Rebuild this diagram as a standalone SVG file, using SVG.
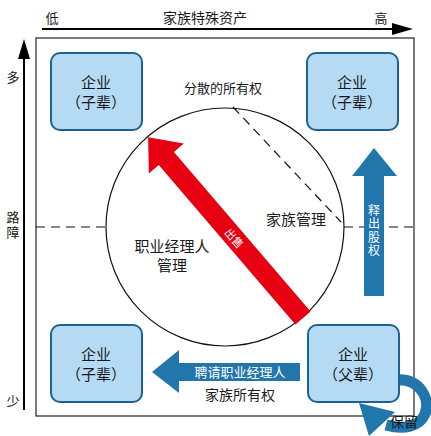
<svg xmlns="http://www.w3.org/2000/svg" width="431" height="436" viewBox="0 0 431 436">
<style>
text{font-family:"Noto Sans CJK SC","Noto Sans",sans-serif;fill:#1a1a1a;text-anchor:middle}
.box{fill:#b5dbf4;stroke:#1b6394;stroke-width:2}
.t15{font-size:15px}
.t14{font-size:14px}
.t13{font-size:13px}
.t12{font-size:12px}
.vt{writing-mode:vertical-rl;text-orientation:upright}
.wt{fill:#ffffff}
.dash{stroke:#111;stroke-width:1.2;stroke-dasharray:9 6;fill:none}
.blue{fill:#2176ac}
</style>
<rect width="431" height="436" fill="#fff"/>
<g id="axes">
<line x1="42" y1="29" x2="394" y2="29" stroke="#000" stroke-width="2"/>
<polygon points="392,23 413,29 392,35" fill="#000"/>
<line x1="24" y1="57" x2="24" y2="410" stroke="#000" stroke-width="2"/>
<polygon points="24,39 30,59 18,59" fill="#000"/>
<text class="t13" x="52" y="23">低</text>
<text class="t14" x="205" y="23">家族特殊资产</text>
<text class="t13" x="381" y="23">高</text>
<text class="t13" x="13" y="82">多</text>
<text class="t13 vt" x="13" y="226" letter-spacing="2">路障</text>
<text class="t13" x="13" y="406">少</text>
</g>
<rect x="36" y="38" width="378" height="378" fill="none" stroke="#222" stroke-width="1.2"/>
<g id="connectors">
<line class="dash" x1="36" y1="227" x2="106" y2="227"/>
<line class="dash" x1="344" y1="227" x2="414" y2="227"/>
<line class="dash" x1="233" y1="107" x2="341" y2="222"/>
<circle cx="225" cy="227" r="119" fill="none" stroke="#111" stroke-width="1.2"/>
<g id="sell-arrow">
<polygon transform="translate(303,318) rotate(-40.6)" points="-10,0 -10,-210 -23,-210 0,-238 23,-210 10,-210 10,0" fill="#e60012"/>
<text class="wt" font-size="11" transform="translate(231,241) rotate(49.4)">出售</text>
</g>
<g id="release-arrow">
<polygon class="blue" points="364,296 364,176 352,176 374,148 397,176 384,176 384,296"/>
<text class="wt t12 vt" x="374" y="231" letter-spacing="1.5">释出股权</text>
</g>
<g id="hire-arrow">
<polygon class="blue" points="300,363 179,363 179,350 152,372 179,393 179,381 300,381"/>
<text class="wt t13" x="240" y="377">聘请职业经理人</text>
</g>
<g id="retain-arrow">
<path d="M396,380 C419,378 431,398 425,414 C419,427 404,430 386,425" fill="none" stroke="#2176ac" stroke-width="11"/>
<polygon class="blue" points="359,403 395,412 369,436"/>
<text class="t14" x="404" y="427">保留</text>
</g>
</g>
<g id="labels">
<text class="t13" x="223" y="93">分散的所有权</text>
<text class="t15" x="296" y="225">家族管理</text>
<text class="t15" x="172" y="252">职业经理人</text>
<text class="t15" x="172" y="271">管理</text>
<text class="t14" x="240" y="400">家族所有权</text>
</g>
<g id="node-tl">
<rect class="box" x="51" y="53" width="91" height="77" rx="9"/>
<text class="t15" x="96" y="88">企业</text>
<text class="t15" x="96" y="108">（子辈）</text>
</g>
<g id="node-tr">
<rect class="box" x="307" y="53" width="91" height="77" rx="9"/>
<text class="t15" x="352" y="88">企业</text>
<text class="t15" x="352" y="108">（子辈）</text>
</g>
<g id="node-bl">
<rect class="box" x="51" y="325" width="91" height="77" rx="9"/>
<text class="t15" x="96" y="360">企业</text>
<text class="t15" x="96" y="380">（子辈）</text>
</g>
<g id="node-br">
<rect class="box" x="308" y="325" width="91" height="77" rx="9"/>
<text class="t15" x="353" y="360">企业</text>
<text class="t15" x="353" y="380">（父辈）</text>
</g>
</svg>
